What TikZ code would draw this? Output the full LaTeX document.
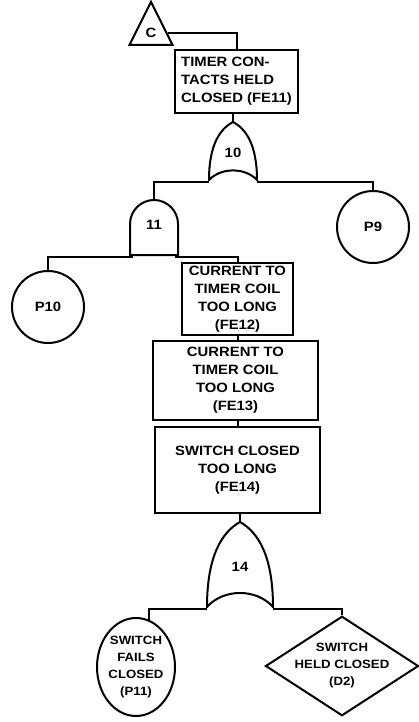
\documentclass[tikz,border=0pt]{standalone}
\usepackage{fontspec}
\setmainfont[FakeStretch=1.1]{Liberation Sans}
\usetikzlibrary{shapes.geometric}

% fault tree gates, drawn from the top point down
\tikzset{
    pics/orgate/.style n args={3}{code={
        \draw (0,0) .. controls (0.55*#1,0.12*#2) and (#1,0.4*#2) .. (#1,#2)
            .. controls (0.5*#1,0.78*#2) and (-0.5*#1,0.78*#2) .. (-#1,#2)
            .. controls (-#1,0.4*#2) and (-0.55*#1,0.12*#2) .. cycle;
        \coordinate (-t) at (0,0);
        \coordinate (-l) at (-#1,#2+2);
        \coordinate (-r) at (#1,#2+2);
        \node (-n) at (0,0.53*#2) {#3};
    }},
    pics/andgate/.style n args={3}{code={
        \draw (-#1,#2) -- (-#1,#1) .. controls (-#1,0.45*#1) and (-0.55*#1,0) .. (0,0)
            .. controls (0.55*#1,0) and (#1,0.45*#1) .. (#1,#1) -- (#1,#2) -- cycle;
        \coordinate (-t) at (0,0);
        \coordinate (-l) at (-#1+3,#2+2);
        \coordinate (-r) at (#1-3,#2+2);
        \node (-n) at (0,0.45*#2) {#3};
    }}
}

\begin{document}
\begin{tikzpicture}[
    x=1pt, y=-1pt, line width=2pt,
    every node/.style={font=\bfseries\fontsize{13.5}{18}\selectfont, align=center, inner sep=0pt},
    event/.style={draw, rectangle},
    basic/.style={draw, circle, minimum size=72pt},
    small/.style={font=\bfseries\fontsize{12}{17}\selectfont},
    trans/.style={draw, isosceles triangle, shape border rotate=90, isosceles triangle stretches,
        minimum width=43pt, minimum height=43pt}
]
\useasboundingbox (0,0) rectangle (419,722);

\node[trans] (c) at (151,33) {C};
\node[event, align=left, minimum width=123pt, minimum height=63pt] (fe11) at (236.5,81.5) {TIMER CON-\\TACTS HELD\\CLOSED (FE11)};

\pic (g10) at (233,122) {orgate={24}{58}{10}};
\pic (g11) at (154,200) {andgate={24}{55}{11}};
\node[basic] (p9) at (373,227) {P9};
\node[basic] (p10) at (48,307) {P10};

\node[event, minimum width=111pt, minimum height=72pt] (fe12) at (237.5,299) {CURRENT TO\\TIMER COIL\\TOO LONG\\(FE12)};
\node[event, minimum width=165pt, minimum height=79pt] (fe13) at (235.5,380.5) {CURRENT TO\\TIMER COIL\\TOO LONG\\(FE13)};
\node[event, minimum width=165pt, minimum height=86pt] (fe14) at (237.5,470) {SWITCH CLOSED\\TOO LONG\\(FE14)};

\pic (g14) at (240,522) {orgate={33}{85}{14}};
\node[draw, ellipse, small, inner xsep=-8pt, minimum width=78pt, minimum height=98pt] (p11) at (136,667) {SWITCH\\FAILS\\CLOSED\\(P11)};
\node[draw, diamond, small, inner xsep=-14pt, inner ysep=-6pt, minimum width=153pt, minimum height=88pt] (d2) at (342,666) {SWITCH\\HELD CLOSED\\(D2)};

\draw (c) -| (fe11.north);
\draw (fe11.south -| g10-t) -- (g10-t);
\draw (g10-l) -| (g11-t);
\draw (g10-r) -| (p9);
\draw (g11-l) -| (p10);
\draw (g11-r) -| (fe12);
\draw (fe12.south) -- (fe12.south |- fe13.north);
\draw (fe13.south -| fe12.south) -- (fe12.south |- fe14.north);
\draw (fe14.south -| g14-t) -- (g14-t);
\draw (g14-l) -| (p11.75);
\draw (g14-r) -| (d2);

\end{tikzpicture}
\end{document}
